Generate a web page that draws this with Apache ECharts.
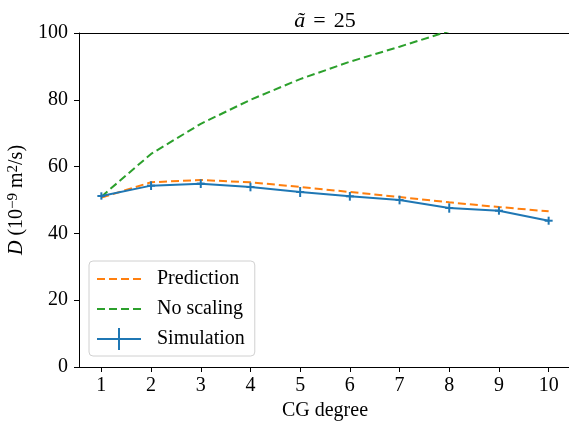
<!DOCTYPE html>
<html>
<head>
<meta charset="utf-8">
<script src="https://cdn.jsdelivr.net/npm/echarts@6/dist/echarts.min.js"></script>
<style>
    html, body { margin: 0; padding: 0; background: #fff; }
    #main { width: 569px; height: 422px; }
</style>
</head>
<body>
<div id="main"></div>
<script>
    // 数据
    var degrees = [1, 2, 3, 4, 5, 6, 7, 8, 9, 10];
    var simulation = [51.2, 54.3, 54.9, 53.9, 52.4, 51.1, 50.0, 47.6, 46.8, 43.8];
    var simErr = [1.1, 1.3, 1.3, 1.3, 1.5, 1.3, 1.3, 1.4, 1.2, 1.2];
    var prediction = [50.7, 55.3, 56.0, 55.3, 53.9, 52.4, 50.9, 49.3, 47.9, 46.6];
    var noScaling = [51.0, 63.8, 72.8, 80.0, 86.2, 91.4, 95.9, 100.6, 104.8, 108.7];

    var FONT = '"Liberation Serif", "DejaVu Serif", serif';
    var DASH_ICON = 'path://M0,10L8,10L8,12L0,12Z M12,10L20,10L20,12L12,12Z M24,10L32,10L32,12L24,12Z M36,10L44,10L44,12L36,12Z M0,0L0.01,0L0.01,0.01Z M0,22L0.01,22L0.01,21.99Z';
    var ERR_ICON = 'path://M0,10L44,10L44,12L0,12Z M21,0L23,0L23,22L21,22Z';

    function pairs(ys) {
        return degrees.map(function (x, i) { return [x, ys[i]]; });
    }

    var option = {
        animation: false,
        title: {
            text: '{it|ã}{eq|=}{n|25}',
            left: 320,
            textAlign: 'center',
            top: 5,
            textStyle: {
                fontFamily: FONT,
                fontSize: 21,
                fontWeight: 'normal',
                color: '#000',
                rich: {
                    it: { fontFamily: FONT, fontSize: 22, fontStyle: 'italic', color: '#000' },
                    eq: { fontFamily: FONT, fontSize: 22, color: '#000', padding: [0, 8, 0, 8] },
                    n: { fontFamily: FONT, fontSize: 22, color: '#000' }
                }
            }
        },
        grid: {
            left: 79,
            top: 33,
            width: 492,
            height: 334,
            outerBoundsMode: 'none',
            containLabel: false
        },
        legend: {
            orient: 'vertical',
            left: 89,
            top: 261,
            itemWidth: 44,
            itemHeight: 22,
            itemGap: 8,
            padding: [7, 10, 6, 8],
            backgroundColor: 'rgba(255,255,255,0.8)',
            borderColor: '#d0d0d0',
            borderWidth: 1,
            borderRadius: 4,
            textStyle: {
                fontFamily: FONT,
                fontSize: 20,
                color: '#000',
                padding: [0, 0, 0, 11]
            },
            data: [
                { name: 'Prediction', icon: DASH_ICON },
                { name: 'No scaling', icon: DASH_ICON },
                { name: 'Simulation', icon: ERR_ICON }
            ]
        },
        xAxis: [{
            type: 'value',
            min: 0.55,
            max: 10.45,
            name: 'CG degree',
            nameLocation: 'middle',
            nameGap: 33,
            nameTextStyle: { fontFamily: FONT, fontSize: 20, color: '#000' },
            splitLine: { show: false },
            axisLine: { lineStyle: { color: '#000', width: 1 } },
            axisTick: { show: true, length: 5, inside: false, customValues: degrees, lineStyle: { color: '#000' } },
            axisLabel: {
                customValues: degrees,
                margin: 9,
                fontFamily: FONT,
                fontSize: 20,
                color: '#000'
            }
        }, {
            // 顶部边框
            type: 'value',
            position: 'top',
            min: 0.55,
            max: 10.45,
            splitLine: { show: false },
            axisLine: { show: true, lineStyle: { color: '#000', width: 1 } },
            axisTick: { show: false },
            axisLabel: { show: false }
        }],
        yAxis: {
            type: 'value',
            min: 0,
            max: 100,
            interval: 20,
            name: '{it|D} (10{sup|−9} m{sup|2}/s)',
            nameLocation: 'middle',
            nameRotate: 90,
            nameGap: 46,
            nameTextStyle: {
                fontFamily: FONT,
                fontSize: 20,
                color: '#000',
                rich: {
                    it: { fontFamily: FONT, fontSize: 20, fontStyle: 'italic', color: '#000' },
                    sup: { fontFamily: FONT, fontSize: 15, color: '#000', verticalAlign: 'top', padding: [0, 0, 8, 0] }
                }
            },
            splitLine: { show: false },
            axisLine: { show: true, lineStyle: { color: '#000', width: 1 } },
            axisTick: { show: true, length: 5, inside: false, lineStyle: { color: '#000' } },
            axisLabel: {
                margin: 11,
                fontFamily: FONT,
                fontSize: 20,
                color: '#000'
            }
        },
        series: [{
            name: 'Prediction',
            type: 'line',
            data: pairs(prediction),
            symbol: 'none',
            color: '#ff7f0e',
            lineStyle: { color: '#ff7f0e', width: 2, type: [8, 4] },
            z: 2
        }, {
            name: 'No scaling',
            type: 'line',
            data: pairs(noScaling),
            symbol: 'none',
            color: '#2ca02c',
            lineStyle: { color: '#2ca02c', width: 2, type: [8, 4] },
            z: 2
        }, {
            name: 'Simulation',
            type: 'line',
            data: pairs(simulation),
            symbol: 'none',
            color: '#1f77b4',
            lineStyle: { color: '#1f77b4', width: 2 },
            z: 3
        }, {
            // 误差棒
            name: 'SimulationErr',
            type: 'custom',
            data: degrees.map(function (x, i) { return [x, simulation[i], simErr[i]]; }),
            z: 4,
            renderItem: function (params, api) {
                var x = api.value(0), y = api.value(1), e = api.value(2);
                var c = api.coord([x, y]);
                var lo = api.coord([x, y - e]);
                var hi = api.coord([x, y + e]);
                var st = { stroke: '#1f77b4', lineWidth: 2 };
                return {
                    type: 'group',
                    children: [
                        { type: 'line', shape: { x1: lo[0], y1: lo[1], x2: hi[0], y2: hi[1] }, style: st },
                        { type: 'line', shape: { x1: c[0] - 4, y1: c[1], x2: c[0] + 4, y2: c[1] }, style: st }
                    ]
                };
            }
        }]
    };

    //初始化echarts实例
    var myChart = echarts.init(document.getElementById('main'));
    myChart.setOption(option);
</script>
</body>
</html>
